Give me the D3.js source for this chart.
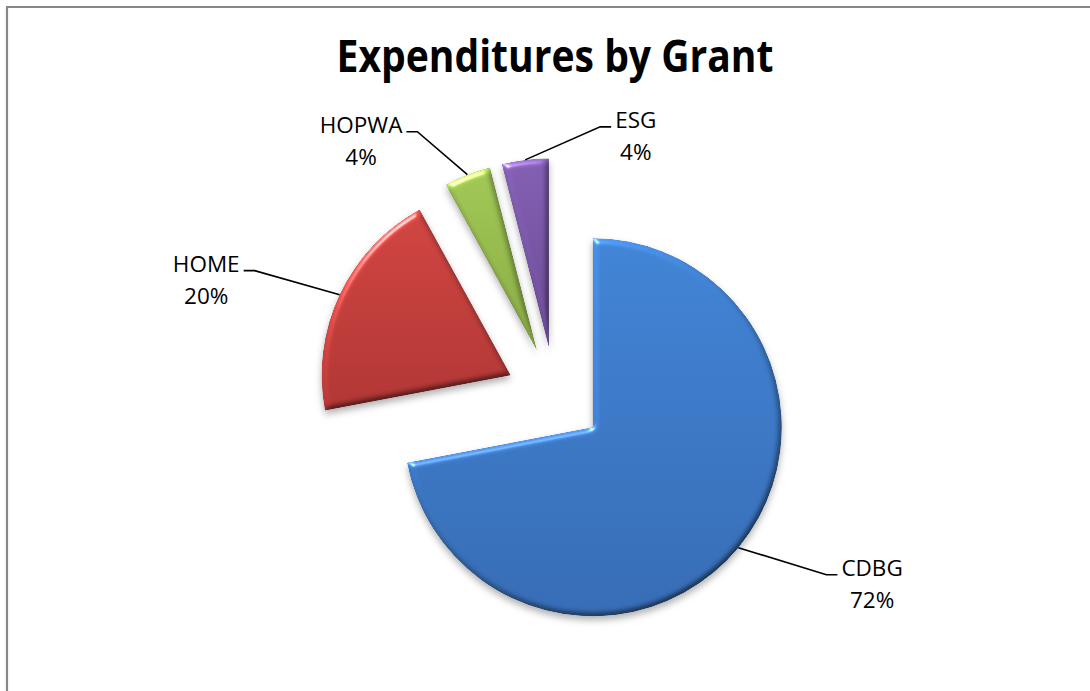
<!DOCTYPE html>
<html>
<head>
<meta charset="utf-8">
<script src="https://cdn.jsdelivr.net/npm/d3@7"></script>
<style>
  html, body { margin: 0; padding: 0; background: #fff; }
  svg { display: block; }
</style>
</head>
<body>
<svg id="chart" width="1090" height="691"></svg>
<script>
// ---- data ----
const categories = ["CDBG", "HOME", "HOPWA", "ESG"];
const shares = [72, 20, 4, 4];
const pctLabels = ["72%", "20%", "4%", "4%"];
const titleText = "Expenditures by Grant";

// ---- style / layout ----
const W = 1090, H = 691;
const cx = 555, cy = 396, R = 189, explode = 49;
const topColors = ["#4285d6", "#d24643", "#a2c956", "#8460b3"];
const botColors = ["#386db6", "#b13735", "#89ab45", "#6c4b95"];
// label elbow offsets from the slice's arc midpoint (layout of callouts)
const labelOffsets = [[88, 27], [-85, -24], [-50, -43], [75, -33]];

const svg = d3.select("#chart");
const defs = svg.append("defs");

// bevel + shadow filter
const elev = 55;
const f = defs.append("filter").attr("id", "bevel")
  .attr("x", "-20%").attr("y", "-20%").attr("width", "140%").attr("height", "140%")
  .attr("color-interpolation-filters", "sRGB");
f.append("feGaussianBlur").attr("in", "SourceAlpha").attr("stdDeviation", 3).attr("result", "blur");
const spec = f.append("feSpecularLighting").attr("in", "blur").attr("surfaceScale", 3)
  .attr("specularConstant", 0.55).attr("specularExponent", 70)
  .attr("lighting-color", "#ffffff").attr("result", "spec");
spec.append("feDistantLight").attr("azimuth", 235).attr("elevation", 40);
f.append("feComposite").attr("in", "spec").attr("in2", "SourceAlpha").attr("operator", "in").attr("result", "specIn");
const diff = f.append("feDiffuseLighting").attr("in", "blur").attr("surfaceScale", 2.5)
  .attr("diffuseConstant", 1).attr("lighting-color", "#ffffff").attr("result", "diff");
diff.append("feDistantLight").attr("azimuth", 235).attr("elevation", elev);
f.append("feComposite").attr("in", "SourceGraphic").attr("in2", "diff").attr("operator", "arithmetic")
  .attr("k1", 1 / Math.sin(elev * Math.PI / 180)).attr("k2", 0).attr("k3", 0).attr("k4", 0).attr("result", "shaded");
f.append("feComposite").attr("in", "shaded").attr("in2", "SourceAlpha").attr("operator", "in").attr("result", "shadedIn");
f.append("feComposite").attr("in", "shadedIn").attr("in2", "specIn").attr("operator", "arithmetic")
  .attr("k1", 0).attr("k2", 1).attr("k3", 1).attr("k4", 0).attr("result", "lit");
f.append("feGaussianBlur").attr("in", "SourceAlpha").attr("stdDeviation", 3.5).attr("result", "sblur");
f.append("feOffset").attr("in", "sblur").attr("dx", 0).attr("dy", 4).attr("result", "soff");
f.append("feFlood").attr("flood-color", "#000").attr("flood-opacity", 0.3).attr("result", "sflood");
f.append("feComposite").attr("in", "sflood").attr("in2", "soff").attr("operator", "in").attr("result", "shadow");
const merge = f.append("feMerge");
merge.append("feMergeNode").attr("in", "shadow");
merge.append("feMergeNode").attr("in", "lit");

categories.forEach((c, i) => {
  const g = defs.append("linearGradient").attr("id", "grad" + i)
    .attr("x1", 0).attr("y1", 0).attr("x2", 0).attr("y2", 1);
  g.append("stop").attr("offset", "0%").attr("stop-color", topColors[i]);
  g.append("stop").attr("offset", "100%").attr("stop-color", botColors[i]);
});

// frame
svg.append("path")
  .attr("d", `M7,${H + 10} L7,7 L${W + 10},7`)
  .attr("fill", "none").attr("stroke", "#878787").attr("stroke-width", 2.2);

// title
svg.append("text")
  .attr("x", cx).attr("y", 72)
  .attr("text-anchor", "middle")
  .attr("font-family", "'Open Sans', 'Liberation Sans', sans-serif")
  .attr("font-weight", "bold")
  .attr("font-size", 44)
  .attr("textLength", 437)
  .attr("lengthAdjust", "spacingAndGlyphs")
  .attr("fill", "#000")
  .text(titleText);

// pie
const pie = d3.pie().sort(null).value(d => d.v).startAngle(0).endAngle(2 * Math.PI);
const arcs = pie(categories.map((c, i) => ({ c, v: shares[i], p: pctLabels[i], i })));
const arc = d3.arc().innerRadius(0).outerRadius(R);

const gPie = svg.append("g").attr("transform", `translate(${cx},${cy})`);

arcs.forEach(a => {
  const mid = (a.startAngle + a.endAngle) / 2;
  a.ox = explode * Math.sin(mid);
  a.oy = -explode * Math.cos(mid);
  a.mid = mid;
});

gPie.selectAll("path.slice").data(arcs).enter().append("path")
  .attr("class", "slice")
  .attr("transform", d => `translate(${d.ox},${d.oy})`)
  .attr("d", arc)
  .attr("fill", d => `url(#grad${d.data.i})`)
  .attr("filter", "url(#bevel)");

// callouts
const font = "'Open Sans', 'Liberation Sans', sans-serif";
arcs.forEach(a => {
  const i = a.data.i;
  const ex = cx + a.ox + R * Math.sin(a.mid);
  const ey = cy + a.oy - R * Math.cos(a.mid);
  const bx = ex + labelOffsets[i][0];
  const by = ey + labelOffsets[i][1];
  const right = labelOffsets[i][0] > 0;
  const hx = bx + (right ? 11 : -11);
  svg.append("polyline")
    .attr("points", `${ex},${ey} ${bx},${by} ${hx},${by}`)
    .attr("fill", "none").attr("stroke", "#000").attr("stroke-width", 1.6);
  const t = svg.append("text")
    .attr("font-family", font).attr("font-size", 22.5).attr("fill", "#000")
    .attr("text-anchor", "middle");
  const l1 = t.append("tspan").text(a.data.c);
  const l2 = t.append("tspan").text(a.data.p);
  const w = Math.max(l1.node().getComputedTextLength(), l2.node().getComputedTextLength());
  const tx = right ? hx + 4 + w / 2 : hx - 4 - w / 2;
  l1.attr("x", tx).attr("y", by + 1);
  l2.attr("x", tx).attr("y", by + 33);
});
</script>
</body>
</html>
